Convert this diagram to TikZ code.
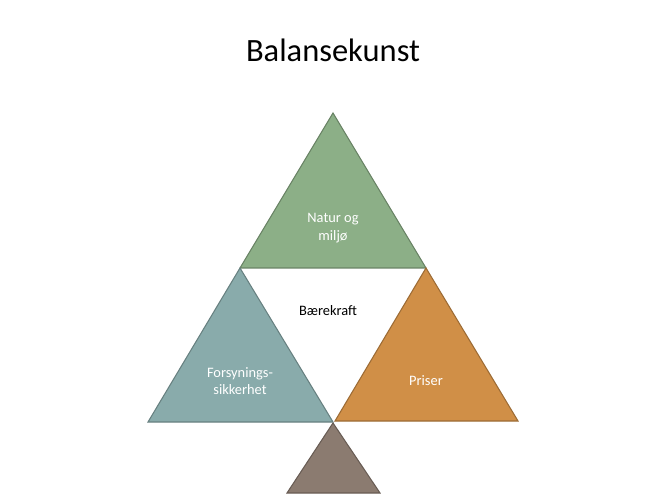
\documentclass[tikz,border=0pt]{standalone}
\usepackage{fontspec}
\setmainfont{Carlito}
\definecolor{cgreen}{HTML}{8CAF87}
\definecolor{cteal}{HTML}{89ABAB}
\definecolor{corange}{HTML}{D08F47}
\definecolor{cbrown}{HTML}{8B7B70}
\begin{document}
\begin{tikzpicture}[x=0.02cm,y=-0.02cm,
  tri/.style={line width=0.6pt,line join=miter},
  lbl/.style={text=white,font=\fontsize{8.2}{10}\selectfont,align=center},
  lblk/.style={text=black,font=\fontsize{8.2}{10}\selectfont,align=center}]
\useasboundingbox (0,0) rectangle (650,500);
\node (title) at (333,50) {\fontsize{18.5}{22}\selectfont Balansekunst};
\filldraw[tri,fill=cgreen,draw=cgreen!75!black] (333,113) -- (426,268) -- (240,268) -- cycle;
\filldraw[tri,fill=cteal,draw=cteal!75!black] (240,268) -- (333,422) -- (148,422) -- cycle;
\filldraw[tri,fill=corange,draw=corange!75!black] (426,268) -- (518,421) -- (335,421) -- cycle;
\filldraw[tri,fill=cbrown,draw=cbrown!75!black] (333,423) -- (380,493) -- (287,493) -- cycle;
\node[lbl] (natur) at (333,228) {Natur og\\milj\o};
\node[lblk] (baere) at (328,311) {Bærekraft};
\node[lbl] (forsyn) at (240,381) {Forsynings-\\sikkerhet};
\node[lbl] (priser) at (426,381) {Priser};
\end{tikzpicture}
\end{document}
